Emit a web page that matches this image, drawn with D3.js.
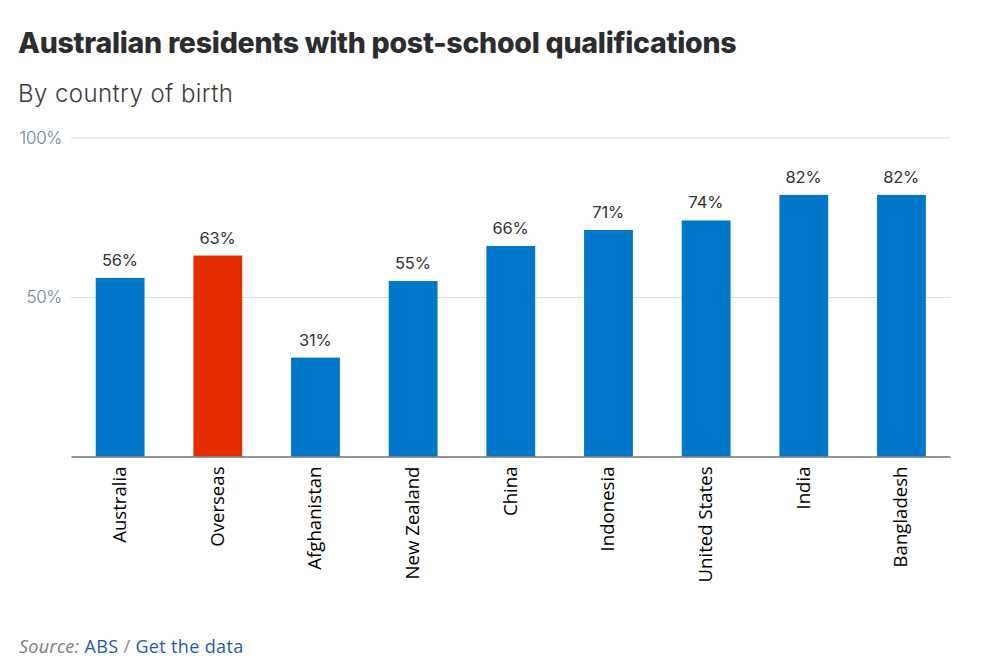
<!DOCTYPE html>
<html><head><meta charset="utf-8">
<script src="https://cdn.jsdelivr.net/npm/d3@7"></script>
<style>html,body{margin:0;padding:0;background:#fff;overflow:hidden}svg{display:block}</style>
</head><body>
<svg id="c" width="991" height="672"></svg>
<script>
const categories=["Australia","Overseas","Afghanistan","New Zealand","China","Indonesia","United States","India","Bangladesh"];
const values=[56,63,31,55,66,71,74,82,82];
const highlighted=["Overseas"];
const yTicks=[50,100];
const title="Australian residents with post-school qualifications";
const subtitle="By country of birth";

const svg=d3.select("#c");
const L=71,R=950,T=137.5,B=456.5;
const x=d3.scaleBand().domain(categories).range([L,R]).paddingInner(0.5).paddingOuter(0.25);
const y=d3.scaleLinear().domain([0,100]).range([B,T]);
const sans='"Open Sans",sans-serif';

svg.append("text").attr("x",18).attr("y",53).attr("font-family",'Inter,sans-serif').attr("font-weight",800).attr("font-size",28.5).attr("letter-spacing",-0.25).attr("fill","#2b2d30").text(title);
svg.append("text").attr("x",18).attr("y",102).attr("font-family",'Inter,sans-serif').attr("font-weight",300).attr("font-size",24).attr("letter-spacing",0.42).attr("fill","#3a3c40").text(subtitle);

const gy=svg.append("g").attr("transform",`translate(${L},0)`)
 .call(d3.axisLeft(y).tickValues(yTicks).tickSize(-(R-L)).tickFormat(d=>d+"%"));
gy.select(".domain").remove();
gy.selectAll("line").attr("stroke","#d9dfe3").attr("stroke-width",1.2);
gy.selectAll("text").attr("x",-9).attr("dy","0.34em").attr("font-family",'Inter,sans-serif').attr("font-weight",300).attr("font-size",17).attr("letter-spacing",-0.3).attr("fill","#6f8196");

svg.selectAll("rect.bar").data(categories).join("rect").attr("class","bar")
 .attr("x",d=>x(d)+0.3).attr("width",x.bandwidth())
 .attr("y",(d,i)=>y(values[i])).attr("height",(d,i)=>y(0)-y(values[i]))
 .attr("fill",d=>highlighted.includes(d)?"#e52d00":"#0077c8");

svg.selectAll("text.val").data(categories).join("text").attr("class","val")
 .attr("x",d=>x(d)+x.bandwidth()/2).attr("y",(d,i)=>y(values[i])-12)
 .attr("text-anchor","middle").attr("font-family",'Inter,sans-serif').attr("font-size",16.5).attr("letter-spacing",-0.2).attr("fill","#333")
 .text((d,i)=>values[i]+"%");

const gx=svg.append("g").attr("transform",`translate(0,${B})`)
 .call(d3.axisBottom(x).tickSize(0));
gx.select(".domain").attr("stroke","#67727e").attr("stroke-width",1.6);
gx.selectAll("text").attr("font-family",sans).attr("font-size",18.6).attr("fill","#000")
 .attr("text-anchor","end").attr("x",0).attr("y",0).attr("dy",0)
 .attr("dominant-baseline","central")
 .attr("transform","translate(-1.5,10) rotate(-90)");

const foot=svg.append("text").attr("x",19).attr("y",653).attr("font-family",sans).attr("font-size",18);
foot.append("tspan").attr("font-style","italic").attr("letter-spacing",0.3).attr("fill","#7d7d7d").text("Source:");
foot.append("tspan").attr("dx",5).attr("letter-spacing",0.35).attr("fill","#1f5ba8").text("ABS");
foot.append("tspan").attr("letter-spacing",0.35).attr("fill","#7d8a99").text(" / ");
foot.append("tspan").attr("letter-spacing",0.35).attr("fill","#1f5ba8").text("Get the data");
</script>
</body></html>
